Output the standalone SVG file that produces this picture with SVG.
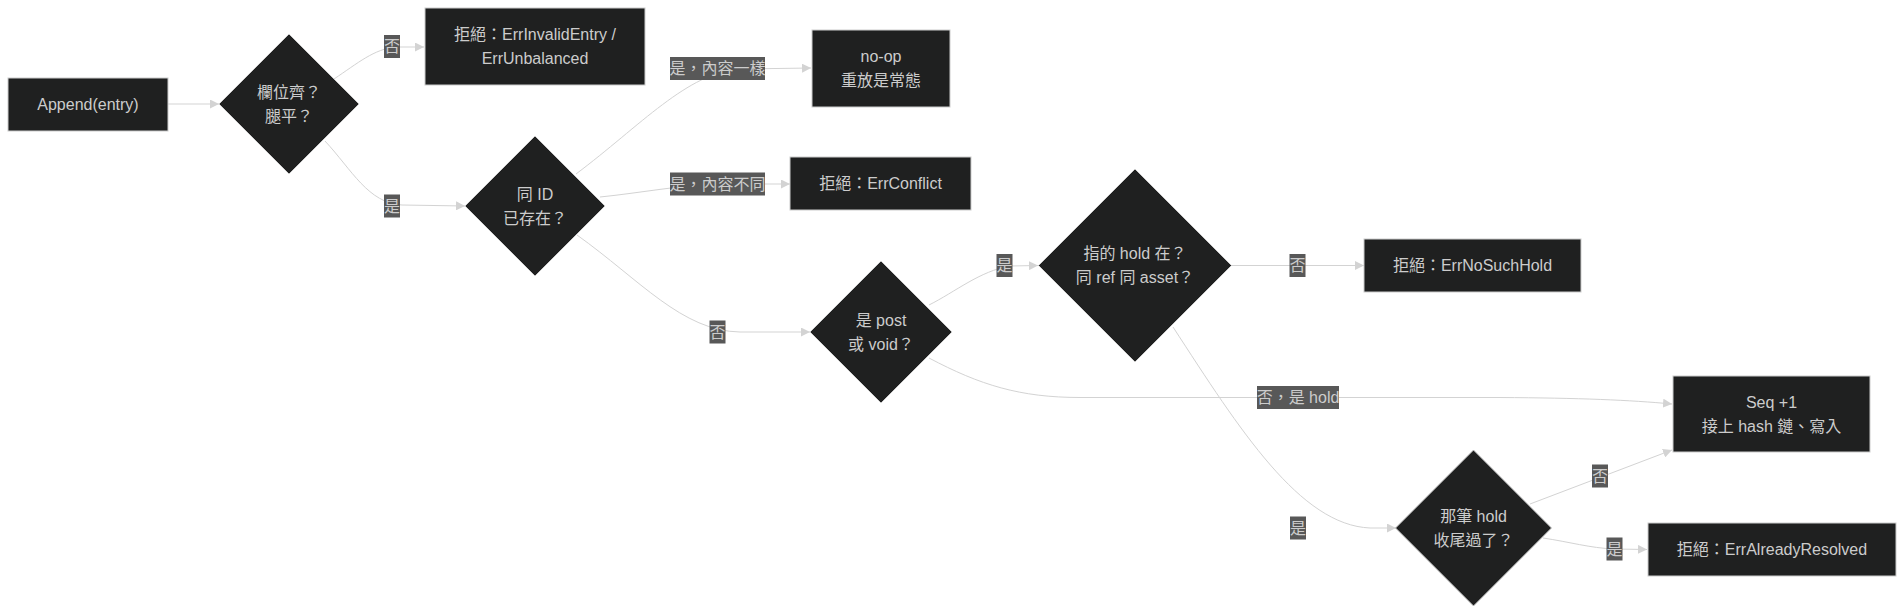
<svg xmlns="http://www.w3.org/2000/svg" width="1904" height="614" viewBox="0 0 1904 614">
<defs>
<style>
.n{fill:#1f2020;stroke:#cccccc;stroke-width:1}
.t{font-family:"Liberation Sans","Noto Sans CJK TC",sans-serif;font-size:16px;fill:#cccccc;text-anchor:middle;dominant-baseline:central}
.e{fill:none;stroke:#d3d3d3;stroke-width:1}
.lb{fill:#585858}
</style>
<marker id="arr" viewBox="0 0 10 10" refX="10" refY="5" markerWidth="9" markerHeight="9" markerUnits="userSpaceOnUse" orient="auto">
<path d="M0,0 L10,5 L0,10 z" fill="#d3d3d3"/>
</marker>
</defs>
<rect width="1904" height="614" fill="#ffffff"/>

<g id="edges">
<path class="e" d="M168,104 L219,104" marker-end="url(#arr)"/>
<path class="e" d="M334,79 C358,63 374,49 396,47 L424,47" marker-end="url(#arr)"/>
<path class="e" d="M325,141 C352,170 368,203 402,205 L465,206" marker-end="url(#arr)"/>
<path class="e" d="M576,174 C640,126 688,72 740,69 L811,68" marker-end="url(#arr)"/>
<path class="e" d="M600,197 C640,193 680,185 720,184 L790,184" marker-end="url(#arr)"/>
<path class="e" d="M577,235 C640,280 682,331 740,332 L810,332" marker-end="url(#arr)"/>
<path class="e" d="M929,305 C955,292 980,271 1010,266 L1038,265.5" marker-end="url(#arr)"/>
<path class="e" d="M929,358 C980,385 1020,397.5 1080,397.5 L1500,397.5 C1580,398 1630,400 1672,404" marker-end="url(#arr)"/>
<path class="e" d="M1232,265.5 L1364,265.5" marker-end="url(#arr)"/>
<path class="e" d="M1173,327 C1240,430 1300,525 1370,528 L1396,528" marker-end="url(#arr)"/>
<path class="e" d="M1530,504 L1672,450" marker-end="url(#arr)"/>
<path class="e" d="M1543,538 C1570,542 1590,548 1614,549 L1647,549.5" marker-end="url(#arr)"/>

<rect class="lb" x="384" y="35" width="16" height="23"/>
<text class="t" x="392" y="46.5">否</text>
<rect class="lb" x="384" y="194.5" width="16" height="23"/>
<text class="t" x="392" y="206">是</text>
<rect class="lb" x="670" y="57" width="95" height="23"/>
<text class="t" x="717.5" y="68.5">是，內容一樣</text>
<rect class="lb" x="670" y="172.5" width="95" height="23"/>
<text class="t" x="717.5" y="184">是，內容不同</text>
<rect class="lb" x="709.5" y="320.5" width="16" height="23"/>
<text class="t" x="717.5" y="332">否</text>
<rect class="lb" x="996.5" y="254" width="16" height="23"/>
<text class="t" x="1004.5" y="265.5">是</text>
<rect class="lb" x="1289.5" y="254" width="16" height="23"/>
<text class="t" x="1297.5" y="265.5">否</text>
<rect class="lb" x="1257" y="386" width="82" height="23"/>
<text class="t" x="1298" y="397.5">否，是 hold</text>
<rect class="lb" x="1290" y="516.5" width="16" height="23"/>
<text class="t" x="1298" y="528">是</text>
<rect class="lb" x="1592" y="464.5" width="16" height="23"/>
<text class="t" x="1600" y="476">否</text>
<rect class="lb" x="1606.5" y="537.5" width="16" height="23"/>
<text class="t" x="1614.5" y="549">是</text>
</g>

<g id="append">
<rect class="n" x="8" y="78" width="160" height="53"/>
<text class="t" x="88" y="104.5">Append(entry)</text>
</g>
<g id="d1">
<polygon class="n" points="289,34 359,104 289,174 219,104"/>
<text class="t" x="289" y="92">欄位齊？</text>
<text class="t" x="289" y="116">腿平？</text>
</g>
<g id="reject1">
<rect class="n" x="425" y="8" width="220" height="77"/>
<text class="t" x="535" y="34.5">拒絕：ErrInvalidEntry /</text>
<text class="t" x="535" y="58.5">ErrUnbalanced</text>
</g>
<g id="d2">
<polygon class="n" points="535,136 605,206 535,276 465,206"/>
<text class="t" x="535" y="194">同 ID</text>
<text class="t" x="535" y="218">已存在？</text>
</g>
<g id="noop">
<rect class="n" x="812" y="30" width="138" height="77"/>
<text class="t" x="881" y="56.5">no-op</text>
<text class="t" x="881" y="80.5">重放是常態</text>
</g>
<g id="conflict">
<rect class="n" x="790" y="157" width="181" height="53"/>
<text class="t" x="880.5" y="183.5">拒絕：ErrConflict</text>
</g>
<g id="d3">
<polygon class="n" points="881,261 952,332 881,403 810,332"/>
<text class="t" x="881" y="320">是 post</text>
<text class="t" x="881" y="344">或 void？</text>
</g>
<g id="d4">
<polygon class="n" points="1135,169 1231.5,265.5 1135,362 1038.5,265.5"/>
<text class="t" x="1135" y="253.5">指的 hold 在？</text>
<text class="t" x="1135" y="277.5">同 ref 同 asset？</text>
</g>
<g id="nosuchhold">
<rect class="n" x="1364" y="239" width="217" height="53"/>
<text class="t" x="1472.5" y="265.5">拒絕：ErrNoSuchHold</text>
</g>
<g id="seq">
<rect class="n" x="1673" y="376" width="197" height="76"/>
<text class="t" x="1771.5" y="402">Seq +1</text>
<text class="t" x="1771.5" y="426">接上 hash 鏈、寫入</text>
</g>
<g id="d5">
<polygon class="n" points="1473.5,450 1551.5,528 1473.5,606 1395.5,528"/>
<text class="t" x="1473.5" y="516">那筆 hold</text>
<text class="t" x="1473.5" y="540">收尾過了？</text>
</g>
<g id="resolved">
<rect class="n" x="1648" y="523" width="248" height="53"/>
<text class="t" x="1772" y="549.5">拒絕：ErrAlreadyResolved</text>
</g>
</svg>
